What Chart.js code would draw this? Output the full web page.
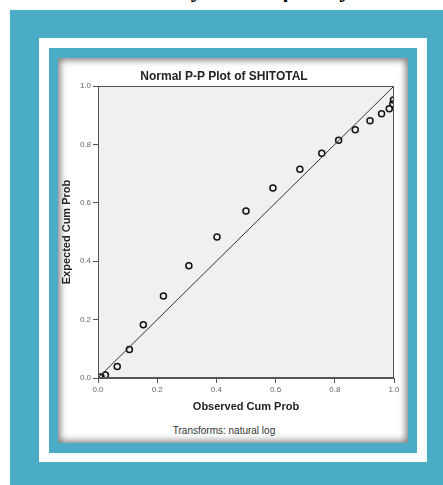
<!DOCTYPE html>
<html>
<head>
<meta charset="utf-8">
<script src="https://cdn.jsdelivr.net/npm/chart.js@4.4.1/dist/chart.umd.min.js"></script>
<style>
  body { margin: 0; width: 443px; height: 485px; background: #fff; position: relative; overflow: hidden; font-family: "Liberation Sans", Arial, sans-serif; }
  .heading { position: absolute; left: 106px; top: -24px; font: italic bold 23.5px "Liberation Serif", serif; color: #000; white-space: nowrap; }
  .heading span { margin-left: 24px; }
  .frame-outer { position: absolute; left: 10px; top: 10px; width: 433px; height: 480px; background: #4bacc6; }
  .frame-white { position: absolute; left: 39px; top: 38px; width: 388px; height: 424px; background: #fff; }
  .frame-inner { position: absolute; left: 49px; top: 48px; width: 368px; height: 405px; background: #4bacc6; }
  .panel { position: absolute; left: 58px; top: 58px; width: 350px; height: 385px; background: #fff; box-shadow: inset 0 0 7px 2px #777; }
  #chart { position: absolute; left: 58px; top: 58px; }
  .title { position: absolute; left: 104px; width: 240px; top: 69px; text-align: center; font: bold 12px "Liberation Sans", Arial, sans-serif; color: #222; }
  .foot { position: absolute; left: 104px; width: 240px; top: 425px; text-align: center; font: 10px "Liberation Sans", Arial, sans-serif; color: #333; }
</style>
</head>
<body>
<div class="heading">Normality Test<span>of Study</span></div>
<div class="frame-outer"></div>
<div class="frame-white"></div>
<div class="frame-inner"></div>
<div class="panel"></div>
<canvas id="chart" width="350" height="360"></canvas>
<div class="title">Normal P-P Plot of SHITOTAL</div>
<div class="foot">Transforms: natural log</div>
<script>
// observed vs expected cumulative probabilities
const observedCum = [0.010, 0.025, 0.065, 0.106, 0.153, 0.221, 0.307, 0.402, 0.500, 0.591, 0.682, 0.756, 0.813, 0.869, 0.919, 0.958, 0.984, 0.996, 0.998];
const expectedCum = [0.003, 0.010, 0.039, 0.098, 0.182, 0.281, 0.384, 0.483, 0.572, 0.651, 0.715, 0.770, 0.814, 0.850, 0.881, 0.905, 0.922, 0.938, 0.952];
const refLineX = [0, 1];
const refLineY = [0, 1];
const tickValues = [0, 0.2, 0.4, 0.6, 0.8, 1.0];

const plotBox = {
  id: "plotBox",
  beforeDatasetsDraw(chart) {
    const { ctx, chartArea: a } = chart;
    ctx.save();
    ctx.fillStyle = "#f0f0f0";
    ctx.fillRect(a.left, a.top, a.right - a.left, a.bottom - a.top);
    ctx.restore();
  },
  afterDatasetsDraw(chart) {
    const { ctx, chartArea: a } = chart;
    ctx.save();
    ctx.strokeStyle = "#555";
    ctx.lineWidth = 1;
    ctx.strokeRect(a.left + 0.5, a.top + 0.5, a.right - a.left - 1, a.bottom - a.top - 1);
    ctx.restore();
  }
};

const tickOpts = {
  color: "#666",
  font: { size: 8, family: "Liberation Sans" },
  padding: 2,
  autoSkip: false,
  callback: v => Number(v).toFixed(1)
};

new Chart(document.getElementById("chart"), {
  type: "scatter",
  data: {
    datasets: [
      {
        data: refLineX.map((x, i) => ({ x, y: refLineY[i] })),
        showLine: true,
        borderColor: "#333",
        borderWidth: 1,
        pointRadius: 0
      },
      {
        data: observedCum.map((x, i) => ({ x, y: expectedCum[i] })),
        pointStyle: "circle",
        pointRadius: 3,
        pointBorderWidth: 1.5,
        pointBorderColor: "#111",
        pointBackgroundColor: "rgba(0,0,0,0)"
      }
    ]
  },
  options: {
    responsive: false,
    animation: false,
    layout: { padding: { top: 28, right: 14, left: 0, bottom: 0 } },
    plugins: { legend: { display: false }, tooltip: { enabled: false } },
    scales: {
      x: {
        min: 0, max: 1,
        afterBuildTicks: s => { s.ticks = tickValues.map(v => ({ value: v })); },
        afterFit: s => { s.height = 40; },
        ticks: tickOpts,
        grid: { drawOnChartArea: false, tickLength: 5, color: "#555" },
        border: { color: "#555" },
        title: { display: true, text: "Observed Cum Prob", color: "#222", font: { size: 11, weight: "bold", family: "Liberation Sans" }, padding: { top: 5 } }
      },
      y: {
        min: 0, max: 1,
        afterBuildTicks: s => { s.ticks = tickValues.map(v => ({ value: v })); },
        afterFit: s => { s.width = 40; },
        ticks: tickOpts,
        grid: { drawOnChartArea: false, tickLength: 5, color: "#555" },
        border: { color: "#555" },
        title: { display: true, text: "Expected Cum Prob", color: "#222", font: { size: 11, weight: "bold", family: "Liberation Sans" }, padding: { top: 2, bottom: 0 } }
      }
    }
  },
  plugins: [plotBox]
});
</script>
</body>
</html>
